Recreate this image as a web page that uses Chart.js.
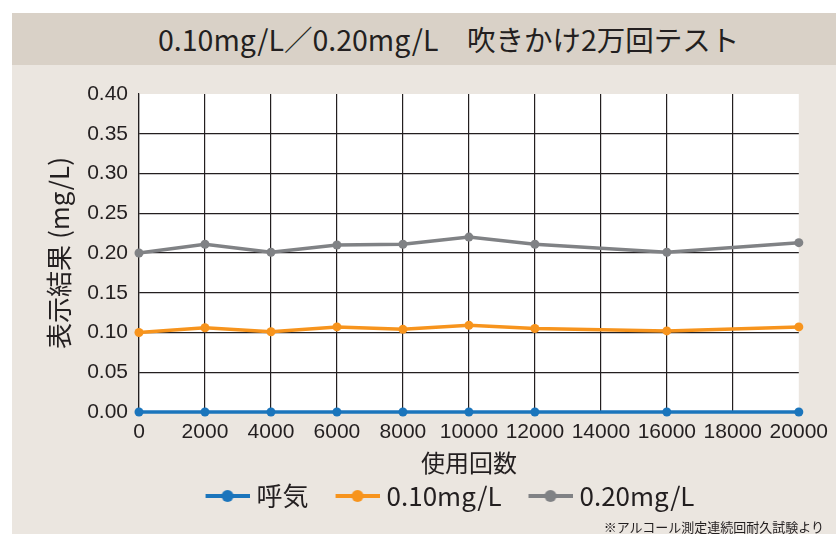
<!DOCTYPE html>
<html lang="ja">
<head>
<meta charset="utf-8">
<script src="https://cdn.jsdelivr.net/npm/chart.js@4"></script>
<style>
  html, body { margin: 0; padding: 0; background: #fff; }
  #wrap { position: absolute; left: 12px; top: 13px; width: 824px; height: 521px; background: #ebe6e0; overflow: hidden; }
  #title { height: 52px; background: #d9d1c7; color: #231f20;
    font: 400 28.5px "Noto Sans CJK JP", sans-serif; line-height: 52px;
    padding-left: 146px; white-space: nowrap; }
  #box { position: absolute; left: 0; top: 52px; width: 824px; height: 469px; }
  #note { position: absolute; right: 12px; bottom: -2px; font: 13px "Noto Sans CJK JP", sans-serif; color: #231f20; }
</style>
</head>
<body>
<div id="wrap">
  <div id="title">0.10mg/L／0.20mg/L　吹きかけ2万回テスト</div>
  <div id="box"><canvas id="chart" width="824" height="469"></canvas></div>
  <div id="note">※アルコール測定連続回耐久試験より</div>
</div>
<script>
var usos   = [0, 2000, 4000, 6000, 8000, 10000, 12000, 16000, 20000];
var breath = [0, 0, 0, 0, 0, 0, 0, 0, 0];
var mg010  = [0.100, 0.106, 0.101, 0.107, 0.104, 0.109, 0.105, 0.102, 0.107];
var mg020  = [0.200, 0.211, 0.201, 0.210, 0.211, 0.220, 0.211, 0.201, 0.213];
var series = ['呼気', '0.10mg/L', '0.20mg/L'];
var colores = ['#1b75bc', '#f7941d', '#808285'];

var fuenteNum = '"Liberation Sans", Arial, sans-serif';
var fuenteJp  = '"Noto Sans CJK JP", sans-serif';

function pts(arr) { return usos.map((x, i) => ({ x: x, y: arr[i] })); }

// icono de leyenda: línea con punto (con margen transparente a la izquierda)
function icono(color) {
  var c = document.createElement('canvas');
  c.width = 73; c.height = 14;
  var g = c.getContext('2d');
  g.strokeStyle = color; g.lineWidth = 4;
  g.beginPath(); g.moveTo(29, 7); g.lineTo(73, 7); g.stroke();
  g.fillStyle = color;
  g.beginPath(); g.arc(51, 7, 6, 0, Math.PI * 2); g.fill();
  return c;
}
var iconos = colores.map(icono);

var fondo = {
  id: 'fondo',
  beforeDraw(chart) {
    var a = chart.chartArea, ctx = chart.ctx;
    ctx.save(); ctx.fillStyle = '#fff';
    ctx.fillRect(a.left, a.top, a.right - a.left, a.bottom - a.top);
    ctx.restore();
  }
};

// la leyenda del original está algo corrida a la derecha
var moverLeyenda = {
  id: 'moverLeyenda',
  afterLayout(chart) {
    chart.legend.left += 32;
    chart.legend.right += 32;
  }
};

function ds(label, data, color) {
  return { label: label, data: pts(data), borderColor: color, backgroundColor: color,
    borderWidth: 3.5, pointRadius: 4.5, pointHoverRadius: 4.5, pointBorderWidth: 0,
    tension: 0, clip: false };
}

new Chart(document.getElementById('chart'), {
  type: 'line',
  data: { datasets: [ds(series[0], breath, colores[0]), ds(series[1], mg010, colores[1]), ds(series[2], mg020, colores[2])] },
  plugins: [fondo, moverLeyenda],
  options: {
    responsive: false,
    animation: false,
    layout: { padding: { left: 0, right: 35, top: 29, bottom: 15 } },
    scales: {
      x: {
        type: 'linear', min: 0, max: 20000,
        ticks: { stepSize: 2000, autoSkip: false, maxRotation: 0, padding: 8, color: '#231f20',
          callback: v => String(v), font: { family: fuenteNum, size: 21 } },
        grid: { drawTicks: false, lineWidth: 1.2, color: c => c.tick && c.tick.value === 20000 ? 'rgba(0,0,0,0)' : '#231f20' },
        border: { display: false },
        title: { display: true, text: '使用回数', color: '#231f20', padding: { top: 0, bottom: 2 },
          font: { family: fuenteJp, size: 24 } },
        afterFit: s => { s.height = 67; }
      },
      y: {
        min: 0, max: 0.4,
        ticks: { stepSize: 0.05, padding: 11, color: '#231f20', callback: v => v.toFixed(2),
          font: { family: fuenteNum, size: 21 } },
        grid: { drawTicks: false, lineWidth: 1.2, color: c => c.tick && Math.abs(c.tick.value - 0.4) < 1e-9 ? 'rgba(0,0,0,0)' : '#231f20' },
        border: { display: true, color: '#231f20', width: 1.2 },
        title: { display: true, text: '表示結果 (mg/L)', color: '#231f20', padding: { top: 32, bottom: 0 },
          font: { family: fuenteJp, size: 26 } },
        afterFit: s => { s.width = 127; }
      }
    },
    plugins: {
      tooltip: { enabled: false },
      legend: {
        position: 'bottom',
        labels: {
          usePointStyle: true, pointStyleWidth: 61, padding: 4, color: '#231f20',
          font: { family: fuenteJp, size: 26 },
          generateLabels: chart => Chart.defaults.plugins.legend.labels.generateLabels(chart)
            .map((l, i) => Object.assign(l, { pointStyle: iconos[i] }))
        }
      }
    }
  }
});
</script>
</body>
</html>
